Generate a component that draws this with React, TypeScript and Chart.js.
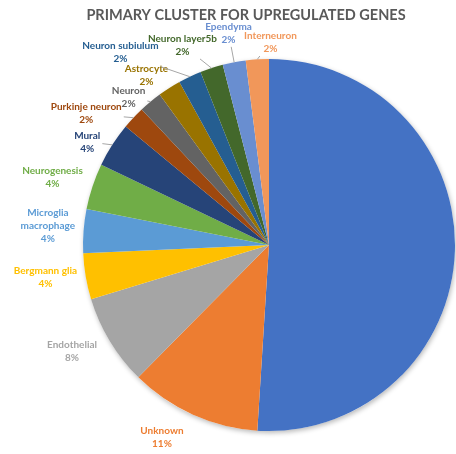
import React, { useEffect, useRef } from 'react';
import { Chart, registerables } from 'chart.js';

Chart.register(...registerables);

const TITLE = 'PRIMARY CLUSTER FOR UPREGULATED GENES';

const categories = [
  '',
  'Unknown',
  'Endothelial',
  'Bergmann glia',
  'Microglia\nmacrophage',
  'Neurogenesis',
  'Mural',
  'Purkinje neuron',
  'Neuron',
  'Astrocyte',
  'Neuron subiulum',
  'Neuron layer5b',
  'Ependyma',
  'Interneuron',
];

const shares = [51.0, 11.4, 7.9, 4.0, 3.8, 4.0, 3.9, 2.0, 2.0, 2.0, 2.0, 2.0, 2.0, 2.0];

const sliceColors = [
  '#4472C4', '#ED7D31', '#A5A5A5', '#FFC000', '#5B9BD5', '#70AD47', '#264478',
  '#9E480E', '#636363', '#997300', '#255E91', '#43682B', '#698ED0', '#F1975A',
];

const labelColors = [
  '#4472C4', '#ED7D31', '#A5A5A5', '#FFC000', '#5B9BD5', '#70AD47', '#264478',
  '#9E480E', '#636363', '#997300', '#255E91', '#43682B', '#698ED0', '#F1975A',
];

// label placement: distance of the label block centre from the pie centre,
// and its angular shift (degrees, clockwise) from the slice middle
const labelDistance = [0, 220, 224, 226, 222, 227, 209, 225, 204, 209, 243, 218, 216, 203];
const labelAngleShift = [0, 5, 2.7, 1.4, 0.7, -0.9, -3, -7.5, -3.9, -3.5, -12.5, -5.4, 0, 4];
const leaderLines = [false, false, false, false, false, false, true, true, true, true, true, true, true, true];

const LABEL_FONT = 'bold 10px Lato';
const LINE_H = 13;

const labelPlugin = {
  id: 'outerLabels',
  beforeDatasetsDraw(chart: any) {
    const meta = chart.getDatasetMeta(0);
    const arc = meta.data[0];
    if (!arc) return;
    const { x, y, outerRadius } = arc.getProps(['x', 'y', 'outerRadius'], true);
    const ctx = chart.ctx;
    ctx.save();
    ctx.shadowColor = 'rgba(0,0,0,0.28)';
    ctx.shadowBlur = 5;
    ctx.shadowOffsetX = 1;
    ctx.shadowOffsetY = 2;
    ctx.beginPath();
    ctx.arc(x, y, outerRadius, 0, Math.PI * 2);
    ctx.fillStyle = '#ffffff';
    ctx.fill();
    ctx.restore();
  },
  afterDraw(chart: any) {
    const ctx = chart.ctx;
    const meta = chart.getDatasetMeta(0);
    ctx.save();
    // title
    ctx.font = 'bold 14.5px Lato';
    ctx.fillStyle = '#595959';
    ctx.textAlign = 'center';
    ctx.textBaseline = 'middle';
    ctx.fillText(TITLE, 246, 15);

    ctx.font = LABEL_FONT;
    meta.data.forEach((el: any, i: number) => {
      if (!categories[i]) return;
      const p = el.getProps(['x', 'y', 'startAngle', 'endAngle', 'outerRadius'], true);
      const mid = (p.startAngle + p.endAngle) / 2;
      const la = mid + (labelAngleShift[i] * Math.PI) / 180;
      const lx = p.x + labelDistance[i] * Math.cos(la);
      const ly = p.y + labelDistance[i] * Math.sin(la);
      const lines = categories[i].split('\n');
      lines.push(Math.round(shares[i]) + '%');
      let w = 0;
      lines.forEach((t) => { w = Math.max(w, ctx.measureText(t).width); });
      const h = lines.length * LINE_H;

      if (leaderLines[i]) {
        const ax = p.x + p.outerRadius * Math.cos(mid);
        const ay = p.y + p.outerRadius * Math.sin(mid);
        const dx = ax - lx;
        const dy = ay - ly;
        const hw = w / 2 + 2;
        const hh = h / 2 + 1;
        const t = Math.min(dx !== 0 ? hw / Math.abs(dx) : Infinity, dy !== 0 ? hh / Math.abs(dy) : Infinity);
        if (t < 1) {
          ctx.beginPath();
          ctx.moveTo(lx + dx * t, ly + dy * t);
          ctx.lineTo(ax, ay);
          ctx.strokeStyle = '#A6A6A6';
          ctx.lineWidth = 1;
          ctx.stroke();
        }
      }

      ctx.fillStyle = labelColors[i];
      ctx.textAlign = 'center';
      ctx.textBaseline = 'middle';
      lines.forEach((t, k) => {
        ctx.fillText(t, lx, ly - h / 2 + LINE_H / 2 + k * LINE_H);
      });
    });
    ctx.restore();
  },
};

export default function App() {
  const ref = useRef<HTMLCanvasElement | null>(null);
  useEffect(() => {
    document.body.style.margin = '0';
    const canvas = ref.current;
    if (!canvas) return;
    const chart = new Chart(canvas, {
      type: 'pie',
      data: {
        labels: categories.map((c) => c.replace('\n', ' ')),
        datasets: [
          {
            data: shares,
            backgroundColor: sliceColors,
            borderWidth: 0,
          },
        ],
      },
      options: {
        responsive: false,
        animation: false,
        layout: { padding: { left: 83, right: 1, top: 59, bottom: 23 } },
        plugins: {
          legend: { display: false },
          title: { display: false },
          tooltip: { enabled: false },
        },
      },
      plugins: [labelPlugin],
    });
    return () => chart.destroy();
  }, []);
  return (
    <div style={{ width: 456, height: 454, background: '#fff' }}>
      <canvas ref={ref} width={456} height={454} style={{ display: 'block' }} />
    </div>
  );
}
